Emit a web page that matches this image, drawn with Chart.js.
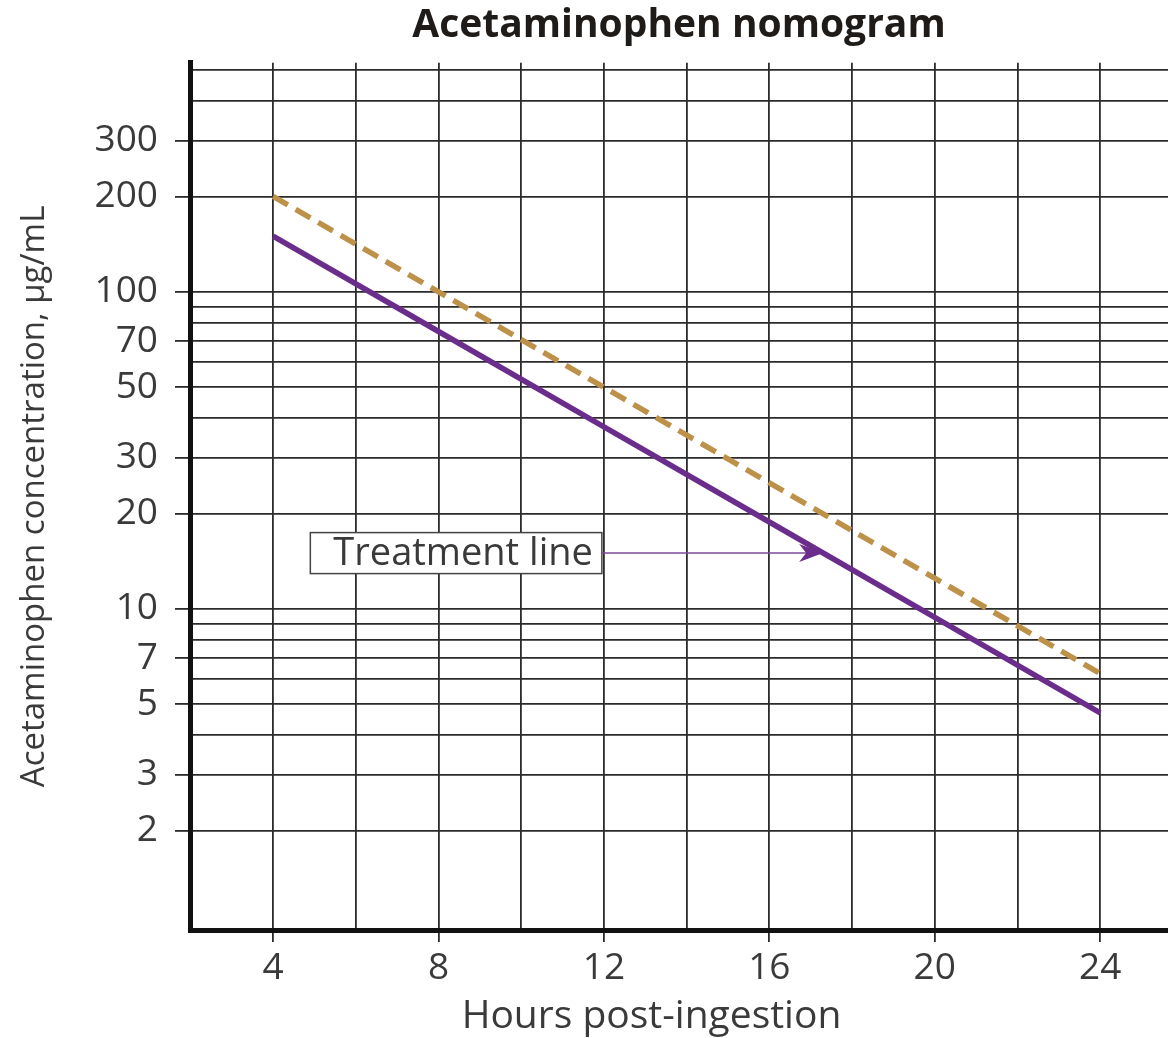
<!DOCTYPE html>
<html>
<head>
<meta charset="utf-8">
<title>Acetaminophen nomogram</title>
<script src="https://cdn.jsdelivr.net/npm/chart.js@4.4.1/dist/chart.umd.min.js"></script>
<style>
    html, body { margin: 0; padding: 0; background: #fff; }
    #wrap { width: 1168px; height: 1038px; }
</style>
</head>
<body>
<div id="wrap"><canvas id="nomogram"></canvas></div>
<script>
const hours = [4, 8, 12, 16, 20, 24];
// Upper (dashed) line, ug/mL
const upperLine = [200, 100, 50, 25, 12.5, 6.25];
// Treatment line, ug/mL
const treatmentLine = [150, 75, 37.5, 18.8, 9.4, 4.7];

// Grid and tick labels
const hourGrid = [4, 6, 8, 10, 12, 14, 16, 18, 20, 22, 24];
const hourLabels = [4, 8, 12, 16, 20, 24];
const concGrid = [2, 3, 4, 5, 6, 7, 8, 9, 10, 20, 30, 40, 50, 60, 70, 80, 90, 100, 200, 300, 400, 500];
const concLabels = [2, 3, 5, 7, 10, 20, 30, 50, 70, 100, 200, 300];

// Callout: box starts at calloutFrom, arrow ends at calloutTo (hours, ug/mL)
const calloutText = 'Treatment line';
const calloutFrom = [4.9, 15];
const calloutTo = [17.3, 15];

const FONT = '"Open Sans", "Noto Sans", sans-serif';
const GRID = '#2b2b2b';
const TEXT = '#3a3a3a';

/**
 * Draws the "Treatment line" box and its arrow, and the x-axis title
 */
const calloutPlugin = {
    id: 'callout',
    afterDatasetsDraw(chart) {
        const { ctx, scales: { x, y } } = chart;
        ctx.save();
        ctx.font = '38px ' + FONT;
        const left = x.getPixelForValue(calloutFrom[0]);
        const mid = y.getPixelForValue(calloutFrom[1]);
        const boxW = ctx.measureText(calloutText).width + 32;
        const boxH = 41;

        ctx.fillStyle = '#fff';
        ctx.fillRect(left, mid - boxH / 2, boxW, boxH);
        ctx.strokeStyle = '#444';
        ctx.lineWidth = 1.5;
        ctx.strokeRect(left, mid - boxH / 2, boxW, boxH);

        ctx.fillStyle = TEXT;
        ctx.textBaseline = 'middle';
        ctx.textAlign = 'left';
        ctx.fillText(calloutText, left + 23, mid + 1);

        // arrow
        const tipX = x.getPixelForValue(calloutTo[0]);
        const tipY = y.getPixelForValue(calloutTo[1]);
        ctx.strokeStyle = '#7d4a9c';
        ctx.lineWidth = 1.5;
        ctx.beginPath();
        ctx.moveTo(left + boxW, mid);
        ctx.lineTo(tipX - 12, tipY);
        ctx.stroke();

        ctx.fillStyle = '#6b2d8c';
        ctx.beginPath();
        ctx.moveTo(tipX, tipY);
        ctx.lineTo(tipX - 24, tipY - 9);
        ctx.lineTo(tipX - 17, tipY);
        ctx.lineTo(tipX - 24, tipY + 9);
        ctx.closePath();
        ctx.fill();
        ctx.restore();
    },
    afterDraw(chart) {
        const { ctx, scales: { x } } = chart;
        ctx.save();
        ctx.font = '39px ' + FONT;
        ctx.fillStyle = TEXT;
        ctx.textAlign = 'center';
        ctx.textBaseline = 'middle';
        // title sits a little left of the plot centre in the original
        ctx.fillText('Hours post-ingestion', x.getPixelForValue(13.15), 1017);
        ctx.restore();
    }
};

function drawChart() {
    const ctx = document.getElementById('nomogram').getContext('2d');

    new Chart(ctx, {
        type: 'line',
        data: {
            datasets: [
                {
                    label: 'Upper line',
                    data: hours.map((h, i) => ({ x: h, y: upperLine[i] })),
                    borderColor: '#bd9149',
                    borderWidth: 5.5,
                    borderDash: [17, 9],
                    borderCapStyle: 'butt',
                    pointRadius: 0,
                    tension: 0
                },
                {
                    label: 'Treatment line',
                    data: hours.map((h, i) => ({ x: h, y: treatmentLine[i] })),
                    borderColor: '#6b2d8c',
                    borderWidth: 5.5,
                    pointRadius: 0,
                    tension: 0
                }
            ]
        },
        options: {
            responsive: true,
            maintainAspectRatio: false,
            devicePixelRatio: 1,
            animation: false,
            layout: { padding: 0 },
            plugins: {
                legend: { display: false },
                tooltip: { enabled: false },
                title: {
                    display: true,
                    text: 'Acetaminophen nomogram',
                    fullSize: false,
                    color: '#1f1b18',
                    font: { family: FONT, size: 39, weight: 'bold' },
                    padding: { top: 2, bottom: 14 }
                }
            },
            scales: {
                x: {
                    type: 'linear',
                    min: 1.99,
                    max: 25.64,
                    afterBuildTicks: axis => { axis.ticks = hourGrid.map(v => ({ value: v })); },
                    afterFit: axis => { axis.height = 108; },
                    ticks: {
                        autoSkip: false,
                        maxRotation: 0,
                        padding: 4,
                        color: TEXT,
                        font: { family: FONT, size: 37 },
                        callback: value => hourLabels.includes(value) ? String(value) : ''
                    },
                    grid: {
                        color: GRID,
                        lineWidth: 1.8,
                        tickLength: 12,
                        tickColor: c => c.tick && hourLabels.includes(c.tick.value) ? GRID : 'rgba(0,0,0,0)'
                    },
                    border: { color: '#111', width: 5 }
                },
                y: {
                    type: 'logarithmic',
                    min: 0.971,
                    max: 528,
                    afterBuildTicks: axis => { axis.ticks = concGrid.map(v => ({ value: v })); },
                    afterFit: axis => { axis.width = 190; },
                    ticks: {
                        autoSkip: false,
                        padding: 17,
                        color: TEXT,
                        font: { family: FONT, size: 37 },
                        callback: value => concLabels.includes(value) ? String(value) : ''
                    },
                    grid: {
                        color: GRID,
                        lineWidth: 1.8,
                        tickLength: 15,
                        tickColor: c => c.tick && concLabels.includes(c.tick.value) ? GRID : 'rgba(0,0,0,0)'
                    },
                    border: { color: '#111', width: 5 },
                    title: {
                        display: true,
                        text: 'Acetaminophen concentration, \u00b5g/mL',
                        color: TEXT,
                        font: { family: FONT, size: 33 },
                        padding: { top: 15, bottom: 0 }
                    }
                }
            }
        },
        plugins: [calloutPlugin]
    });
}

document.fonts.load('30px "Open Sans"').then(drawChart, drawChart);
</script>
</body>
</html>
